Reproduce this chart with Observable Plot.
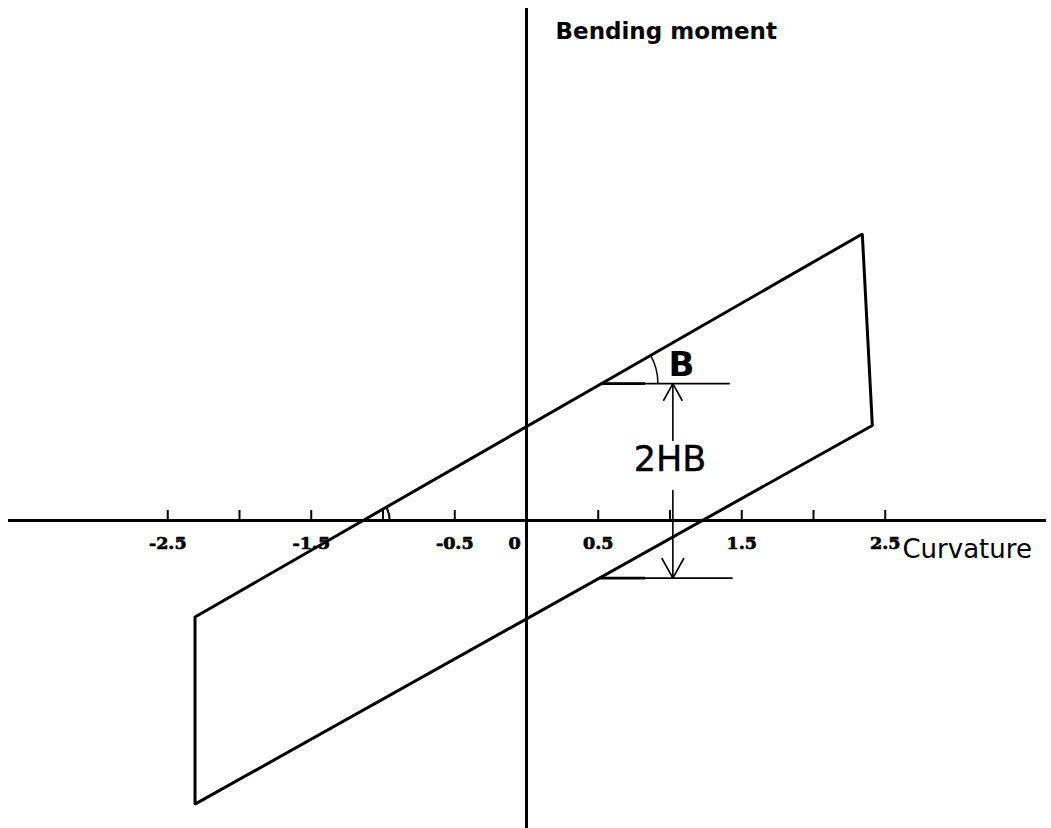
<!DOCTYPE html>
<html><head><meta charset="utf-8">
<script src="https://cdn.jsdelivr.net/npm/d3@7"></script>
<script src="https://cdn.jsdelivr.net/npm/@observablehq/plot@0.6"></script>
<style>html,body{margin:0;padding:0;background:#fff}svg{display:block;background:#fff}</style>
</head><body><div id="chart"></div>
<script>
// ---- data ----
// hysteresis loop corners: top-left, bottom-left, bottom-right, top-right, back to top-left
const loopCurvature = [-2.31, -2.31, 2.41, 2.34, -2.31];
const loopMoment    = [-0.67, -1.97, 0.66, 1.99, -0.67];
const tickValues = [-2.5, -2, -1.5, -1, -0.5, 0.5, 1, 1.5, 2, 2.5];
const tickLabelValues = [-2.5, -1.5, -0.5, 0.5, 1.5, 2.5];
const tickLabels = ["-2.5", "-1.5", "-0.5", "0.5", "1.5", "2.5"];
const zeroLabel = "0";
// 2HB annotation
const hbCurvature = 1.02;
const hbMoment = [0.95, -0.40];          // upper / lower reference levels
const hbStart = [0.52, 0.51];            // where the reference lines leave the loop
const hbEnd = [1.42, 1.44];
const hbHeavyEnd = [0.83, 0.83];         // heavier first part of each reference line
const hbGap = [0.556, 0.208];            // arrow shafts stop around the label
const xTitle = "Curvature";
const yTitle = "Bending moment";
const angleLabel = "B";
const gapLabel = "2HB";

// ---- layout ----
const W = 1051, H = 828;
const X0 = 526, KX = 143.5;   // pixel of origin, pixels per unit
const Y0 = 520, KY = 144;

const loop = loopCurvature.map((c, i) => ({x: c, y: loopMoment[i]}));
const hbLines = hbMoment.map((m, i) => ({x1: hbStart[i], x2: hbEnd[i], y: m}));
const hbHeavy = hbMoment.map((m, i) => ({x1: hbStart[i], x2: hbHeavyEnd[i], y: m}));
const arrows = [
  {x1: hbCurvature, y1: hbGap[0], x2: hbCurvature, y2: hbMoment[0]},
  {x1: hbCurvature, y1: hbGap[1], x2: hbCurvature, y2: hbMoment[1]}
];

function angleArcs(index, scales) {
  const sx = scales.x, sy = scales.y;
  const ax = sx(loopCurvature[0]), ay = sy(loopMoment[0]);
  const bx = sx(loopCurvature[3]), by = sy(loopMoment[3]);
  const theta = Math.atan2(ay - by, bx - ax);
  const xAt = py => ax + (ay - py) * (bx - ax) / (ay - by);
  const g = d3.create("svg:g").attr("fill", "none").attr("stroke", "#111");
  const arcs = [
    {vy: sy(hbMoment[0]), r: 57, w: 1.6},
    {vy: sy(0), r: 27, w: 2.2}
  ];
  for (const a of arcs) {
    const vx = xAt(a.vy);
    g.append("path")
      .attr("stroke-width", a.w)
      .attr("d", `M${vx + a.r},${a.vy}A${a.r},${a.r} 0 0 0 ${vx + a.r * Math.cos(theta)},${a.vy - a.r * Math.sin(theta)}`);
  }
  return g.node();
}

const labelFont = {fontFamily: "DejaVu Serif", fontWeight: "bold", fontSize: 17.5, fill: "#000",
  stroke: "#000", strokeWidth: 0.7, letterSpacing: "-0.5px"};

const plot = Plot.plot({
  width: W, height: H,
  marginTop: 0, marginRight: 0, marginBottom: 0, marginLeft: 0,
  x: {domain: [-X0 / KX, (W - X0) / KX], axis: null},
  y: {domain: [(Y0 - H) / KY, Y0 / KY], axis: null},
  style: {background: "#fff", color: "#000"},
  marks: [
    // axes
    Plot.ruleY([0], {x1: (8 - X0) / KX, x2: (1046 - X0) / KX, stroke: "#000", strokeWidth: 3.2}),
    Plot.ruleX([0], {y1: (Y0 - H) / KY, y2: (Y0 - 8) / KY, stroke: "#000", strokeWidth: 3}),
    Plot.ruleX(tickValues, {x: d => d, y1: 0, y2: 10 / KY, stroke: "#000", strokeWidth: 2}),
    Plot.text(tickLabelValues, {x: d => d, y: 0, text: (d, i) => tickLabels[i], dy: 28, lineAnchor: "bottom", ...labelFont}),
    Plot.text([zeroLabel], {x: 0, y: 0, text: d => d, dx: -12, dy: 28, lineAnchor: "bottom", ...labelFont}),
    Plot.text([xTitle], {x: 2.62, y: 0, text: d => d, dy: 37, textAnchor: "start", lineAnchor: "bottom",
      fontFamily: "DejaVu Sans", fontSize: 26, fill: "#000"}),
    Plot.text([yTitle], {x: 0, y: (Y0 - 38) / KY, text: d => d, dx: 29, textAnchor: "start", lineAnchor: "bottom",
      fontFamily: "DejaVu Sans", fontWeight: "bold", fontSize: 23, fill: "#000"}),
    // loop
    Plot.line(loop, {x: "x", y: "y", stroke: "#000", strokeWidth: 3, strokeLinejoin: "miter"}),
    // annotation
    Plot.ruleY(hbLines, {x1: "x1", x2: "x2", y: "y", stroke: "#000", strokeWidth: 1.8}),
    Plot.ruleY(hbHeavy, {x1: "x1", x2: "x2", y: "y", stroke: "#000", strokeWidth: 2.8}),
    Plot.arrow(arrows, {x1: "x1", y1: "y1", x2: "x2", y2: "y2", stroke: "#000", strokeWidth: 1.6,
      headAngle: 58, headLength: 21}),
    angleArcs,
    Plot.text([gapLabel], {x: 1.0, y: (Y0 - 470) / KY, text: d => d, lineAnchor: "bottom",
      fontFamily: "DejaVu Sans", fontSize: 35, fill: "#000", stroke: "#000", strokeWidth: 0.4}),
    Plot.text([angleLabel], {x: 1.08, y: (Y0 - 375) / KY, text: d => d, lineAnchor: "bottom",
      fontFamily: "DejaVu Sans", fontWeight: "bold", fontSize: 34, fill: "#000"})
  ]
});
document.getElementById("chart").appendChild(plot);
</script>
</body></html>
